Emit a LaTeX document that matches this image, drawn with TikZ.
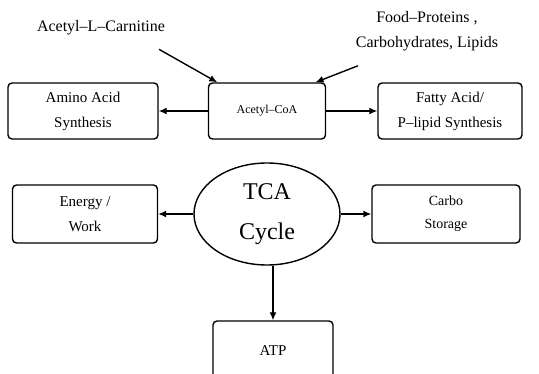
\documentclass[tikz,border=0pt]{standalone}
\usepackage{fontspec}
\setmainfont{Liberation Serif}
\usepackage{tikz}
\usetikzlibrary{arrows.meta,calc,positioning,shapes.geometric}

\begin{document}
\begin{tikzpicture}[x=1pt,y=-1pt,>={Latex[length=8pt,width=7pt]},line width=1.4pt,
  box/.style={draw,rounded corners=4pt,minimum height=56pt,align=center,font=\fontsize{15}{25}\selectfont},
  lbl/.style={align=center,font=\fontsize{16}{25}\selectfont}]
\clip (0,0) rectangle (539,374);

\node(carn)[lbl] at (101,28) {Acetyl--L--Carnitine};
\node(food)[lbl] at (427,31) {Food--Proteins ,\\Carbohydrates, Lipids};

\node(acoa)[box,minimum width=117pt,font=\fontsize{12}{20}\selectfont] at (267,111) {Acetyl--CoA};
\node(amino)[box,minimum width=150pt] at (83,111) {Amino Acid\\Synthesis};
\node(fatty)[box,minimum width=144pt] at (450,111) {Fatty Acid/\\P--lipid Synthesis};

\node(tca)[draw,ellipse,minimum width=146pt,minimum height=102pt,align=center,font=\fontsize{24}{40}\selectfont] at (267,214) {TCA\\Cycle};
\node(energy)[box,minimum width=145pt,minimum height=58pt] at (85,214) {Energy /\\Work};
\node(carbo)[box,minimum width=148pt,minimum height=58pt,font=\fontsize{14}{23}\selectfont] at (446,214) {Carbo\\Storage};
\node(atp)[box,minimum width=120pt,minimum height=60pt] at (273,351) {ATP};

\draw[->] ([xshift=-10pt,yshift=-10pt]carn.south east) -- ($(acoa.north west)!0.08!(acoa.north east)$);
\draw[->] ([xshift=6pt,yshift=-11pt]food.south west) -- ($(acoa.north west)!0.91!(acoa.north east)$);

\draw[->] (acoa.west) -- (amino.east);
\draw[->] (acoa.east) -- (fatty.west);

\draw[->] (tca.west) -- (energy.east);
\draw[->] (tca.east) -- (carbo.west);
\draw[->] (tca.south -| atp.north) -- (atp.north);

\end{tikzpicture}
\end{document}
